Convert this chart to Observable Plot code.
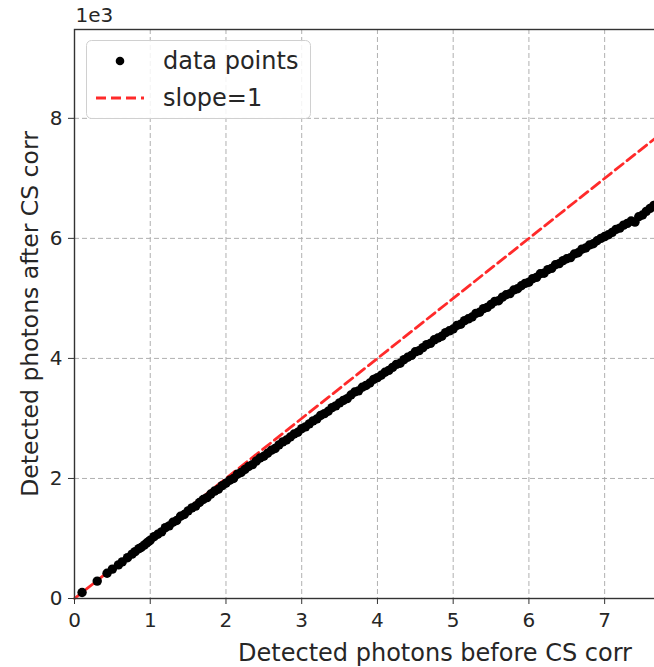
<!DOCTYPE html>
<html>
<head>
<meta charset="utf-8">
<script src="https://cdn.jsdelivr.net/npm/d3@7"></script>
<script src="https://cdn.jsdelivr.net/npm/@observablehq/plot@0.6"></script>
<style>
  html, body { margin: 0; padding: 0; background: #fff; overflow: hidden; }
  #wrap { position: relative; width: 654px; height: 667px; overflow: hidden; }
  #chart svg { max-width: none !important; display: block; }
  #legend { position: absolute; left: 0; top: 0; }
</style>
</head>
<body>
<div id="wrap"><div id="chart"></div><svg id="legend" width="654" height="667"></svg></div>
<script>
// Values (units of 1e3 photons)
const beforeCS = [
  0.10, 0.30, 0.43, 0.50, 0.58, 0.63, 0.70, 0.76, 0.80, 0.85, 0.88, 0.92, 0.95, 0.98,
  1.00, 1.05, 1.10, 1.15, 1.20, 1.25, 1.30, 1.35, 1.40, 1.45, 1.50, 1.55, 1.60, 1.65, 1.70, 1.75,
  1.80, 1.85, 1.90, 1.95, 2.00, 2.05, 2.10, 2.15, 2.20, 2.25, 2.30, 2.35, 2.40, 2.45, 2.50, 2.55,
  2.60, 2.65, 2.70, 2.75, 2.80, 2.85, 2.90, 2.95, 3.00, 3.05, 3.10, 3.15, 3.20, 3.25, 3.30, 3.35,
  3.40, 3.45, 3.50, 3.55, 3.60, 3.65, 3.70, 3.75, 3.80, 3.85, 3.90, 3.95, 4.00, 4.05, 4.10, 4.15,
  4.20, 4.25, 4.30, 4.35, 4.40, 4.45, 4.50, 4.55, 4.60, 4.65, 4.70, 4.75, 4.80, 4.85, 4.90, 4.95,
  5.00, 5.05, 5.10, 5.15, 5.20, 5.25, 5.30, 5.35, 5.40, 5.45, 5.50, 5.55, 5.60, 5.65, 5.70, 5.75,
  5.80, 5.85, 5.90, 5.95, 6.00, 6.05, 6.10, 6.15, 6.20, 6.25, 6.30, 6.35, 6.40, 6.45, 6.50, 6.55,
  6.60, 6.65, 6.70, 6.75, 6.80, 6.85, 6.90, 6.95, 7.00, 7.05, 7.10, 7.15, 7.20, 7.25, 7.30, 7.35,
  7.40, 7.45, 7.50, 7.55, 7.60, 7.65, 7.70
];
const afterCS = [
  0.10, 0.29, 0.42, 0.49, 0.56, 0.61, 0.68, 0.74, 0.78, 0.83, 0.85, 0.89, 0.92, 0.95,
  0.97, 1.03, 1.07, 1.11, 1.18, 1.21, 1.27, 1.30, 1.37, 1.40, 1.46, 1.51, 1.54, 1.60, 1.65, 1.68,
  1.74, 1.79, 1.82, 1.88, 1.92, 1.97, 2.00, 2.07, 2.10, 2.15, 2.20, 2.23, 2.29, 2.34, 2.37, 2.42,
  2.47, 2.50, 2.56, 2.61, 2.64, 2.69, 2.74, 2.77, 2.83, 2.86, 2.91, 2.96, 2.99, 3.05, 3.08, 3.12,
  3.18, 3.21, 3.26, 3.30, 3.33, 3.39, 3.44, 3.46, 3.52, 3.55, 3.59, 3.65, 3.68, 3.72, 3.77, 3.80,
  3.85, 3.90, 3.92, 3.98, 4.02, 4.05, 4.11, 4.13, 4.18, 4.23, 4.25, 4.31, 4.34, 4.37, 4.43, 4.46,
  4.49, 4.55, 4.57, 4.63, 4.66, 4.69, 4.75, 4.77, 4.83, 4.85, 4.90, 4.95, 4.96, 5.02, 5.06, 5.08,
  5.14, 5.16, 5.21, 5.25, 5.27, 5.33, 5.35, 5.41, 5.42, 5.48, 5.50, 5.56, 5.58, 5.63, 5.66, 5.68,
  5.74, 5.76, 5.82, 5.84, 5.89, 5.91, 5.96, 6.00, 6.03, 6.06, 6.10, 6.15, 6.17, 6.22, 6.25, 6.29,
  6.27, 6.36, 6.39, 6.45, 6.50, 6.55, 6.58
];
const slopeLineX = [0, 9.52];
const slopeLineY = [0, 9.52];
const xTicks = [0, 1, 2, 3, 4, 5, 6, 7];
const yTicks = [0, 2, 4, 6, 8];
const xLabel = "Detected photons before CS corr";
const yLabel = "Detected photons after CS corr";
const exponentLabel = "1e3";
const legendLabels = ["data points", "slope=1"];

const points = beforeCS.map((x, i) => ({x, y: afterCS[i]}));
const slope = slopeLineX.map((x, i) => ({x, y: slopeLineY[i]}));

const textColor = "#262626";
const gridStyle = {stroke: "#b0b0b0", strokeOpacity: 1, strokeWidth: 1, strokeDasharray: "5,3"};

const chart = Plot.plot({
  width: 800,
  height: 667,
  marginLeft: 74,
  marginRight: 5,
  marginTop: 29,
  marginBottom: 69,
  x: {domain: [0, 9.52], label: null},
  y: {domain: [0, 9.48], label: null},
  style: {fontFamily: "DejaVu Sans, sans-serif", fontSize: "20px", color: textColor, background: "white", maxWidth: "none"},
  marks: [
    Plot.gridX(xTicks, gridStyle),
    Plot.gridY(yTicks, gridStyle),
    Plot.line(slope, {x: "x", y: "y", stroke: "#ff2a2a", strokeWidth: 2.8, strokeDasharray: "10,5"}),
    Plot.dot(points, {x: "x", y: "y", r: 4.7, fill: "black", stroke: "none"}),
    Plot.frame({stroke: "#333", strokeWidth: 1.4}),
    Plot.axisX({ticks: xTicks, tickSize: 6, tickPadding: 8, fontSize: 20, label: null, stroke: "#333"}),
    Plot.axisY({ticks: yTicks, tickSize: 6, tickPadding: 6, fontSize: 20, label: null, stroke: "#333"}),
    Plot.text([xLabel], {text: d => d, frameAnchor: "bottom", dy: 55, fontSize: 24, textAnchor: "middle", lineAnchor: "middle", fill: textColor}),
    Plot.text([yLabel], {text: d => d, frameAnchor: "left", dx: -44, rotate: -90, fontSize: 23.5, textAnchor: "middle", lineAnchor: "middle", fill: textColor}),
    Plot.text([exponentLabel], {text: d => d, frameAnchor: "top-left", dy: -14, dx: 1, textAnchor: "start", lineAnchor: "middle", fontSize: 20, fill: textColor})
  ]
});
chart.style.maxWidth = "none";
document.getElementById("chart").appendChild(chart);

// Legend drawn on an overlay
const lg = d3.select("#legend");
lg.append("rect").attr("x", 86.5).attr("y", 40.5).attr("width", 224).attr("height", 78)
  .attr("rx", 5).attr("fill", "white").attr("fill-opacity", 0.85).attr("stroke", "#d0d0d0").attr("stroke-width", 1);
lg.append("circle").attr("cx", 120).attr("cy", 61).attr("r", 4.3).attr("fill", "black");
lg.append("line").attr("x1", 96).attr("x2", 144).attr("y1", 98).attr("y2", 98)
  .attr("stroke", "#ff2a2a").attr("stroke-width", 2.8).attr("stroke-dasharray", "10,5");
legendLabels.forEach((t, i) => {
  lg.append("text").attr("x", 163).attr("y", i === 0 ? 61 : 98).attr("dy", "0.35em")
    .attr("font-family", "DejaVu Sans, sans-serif").attr("font-size", 24).attr("fill", textColor).text(t);
});
</script>
</body>
</html>
